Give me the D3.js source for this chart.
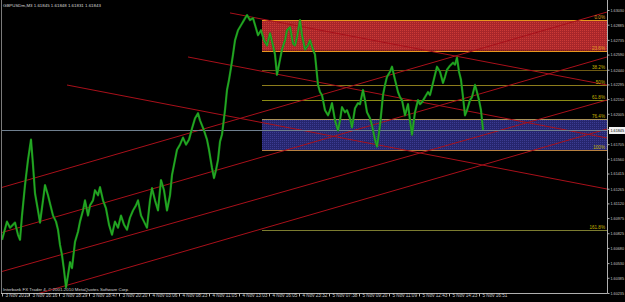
<!DOCTYPE html>
<html><head><meta charset="utf-8">
<script src="https://cdn.jsdelivr.net/npm/d3@7"></script>
<style>html,body{margin:0;padding:0;background:#000;overflow:hidden}</style>
</head><body><svg id="c" width="625" height="302"></svg>
<script>
const symbolTitle = "GBPUSDm,M3  1.61845 1.61848 1.61831 1.61843";
const copyright = "Interbank FX Trader 4, \u00a9 2001-2010 MetaQuotes Software Corp.";

const barIdx = [0,5,8,13,16,18,20,23,26,29,31,33,36,38,41,43,46,48,51,54,56,58,60,62,64,66,68,70,73,76,78,81,83,86,88,91,93,96,98,101,104,107,110,113,116,119,122,125,128,131,134,136,139,142,145,148,150,153,156,159,162,165,168,170,173,175,178,181,184,187,190,193,196,198,200,202,205,207,210,212,214,216,218,220,223,225,227,229,231,233,236,239,242,245,248,251,254,256,259,262,265,268,271,273,275,278,280,283,285,288,291,293,295,298,300,303,306,308,311,313,316,318,320,323,326,328,330,333,336,338,340,343,345,348,350,353,356,358,361,363,365,368,370,373,375,378,381,383,385,388,390,393,396,398,400,403,406,408,410,413,416,418,420,423,426,428,430,433,435,438,441,443,445,448,451,453,455,457,459,461,463,465,468,470,473,475,477,479,481];
const closes = [1.6076,1.6094,1.6088,1.6093,1.6081,1.6076,1.6100,1.6130,1.6155,1.6175,1.6150,1.6122,1.6105,1.6093,1.6115,1.6130,1.6120,1.6112,1.6100,1.6094,1.6086,1.6071,1.6061,1.6046,1.6029,1.6041,1.6054,1.6048,1.6074,1.6084,1.6094,1.6105,1.6115,1.6100,1.6110,1.6115,1.6125,1.6120,1.6128,1.6115,1.6107,1.6091,1.6081,1.6094,1.6088,1.6100,1.6091,1.6086,1.6098,1.6105,1.6110,1.6115,1.6100,1.6094,1.6088,1.6115,1.6127,1.6115,1.6105,1.6135,1.6125,1.6105,1.6120,1.6140,1.6155,1.6165,1.6170,1.6177,1.6170,1.6175,1.6186,1.6196,1.6201,1.6194,1.6189,1.6184,1.6175,1.6165,1.6147,1.6137,1.6145,1.6155,1.6173,1.6180,1.6204,1.6224,1.6234,1.6246,1.6259,1.6273,1.6283,1.6288,1.6293,1.6298,1.6293,1.6295,1.6285,1.6278,1.6283,1.6273,1.6268,1.6280,1.6268,1.6259,1.6239,1.6254,1.6264,1.6273,1.6283,1.6286,1.6270,1.6268,1.6276,1.6293,1.6278,1.6264,1.6268,1.6273,1.6264,1.6259,1.6229,1.6222,1.6219,1.6204,1.6199,1.6204,1.6211,1.6194,1.6184,1.6194,1.6207,1.6202,1.6204,1.6196,1.6187,1.6206,1.6211,1.6210,1.6224,1.6214,1.6202,1.6196,1.6189,1.6175,1.6168,1.6189,1.6219,1.6229,1.6237,1.6242,1.6247,1.6234,1.6222,1.6217,1.6214,1.6199,1.6210,1.6194,1.6180,1.6202,1.6214,1.6210,1.6212,1.6217,1.6222,1.6219,1.6227,1.6239,1.6247,1.6242,1.6231,1.6237,1.6244,1.6248,1.6251,1.6249,1.6256,1.6242,1.6234,1.6217,1.6199,1.6204,1.6214,1.6217,1.6229,1.6222,1.6214,1.6204,1.61845];

const timeTickBars = [0,27,57,87,117,147,177,207,237,267,297,327,357,387,417,447,477];
const timeLabels = ["3 Nov 2010","3 Nov 16:16","3 Nov 18:29","3 Nov 18:47","3 Nov 20:20","4 Nov 03:06","4 Nov 08:23","4 Nov 11:05","4 Nov 13:03","4 Nov 16:05","4 Nov 23:32","5 Nov 07:38","5 Nov 09:20","5 Nov 11:09","5 Nov 12:43","5 Nov 14:23","5 Nov 16:51"];

const priceTicks = [1.63030,1.62885,1.62735,1.62590,1.62440,1.62295,1.62150,1.62005,1.61855,1.61705,1.61560,1.61415,1.61265,1.61120,1.60975,1.60825,1.60680,1.60530,1.60385,1.60235];
const bidPrice = 1.61845;

const fibLevels = [0, 23.6, 38.2, 50, 61.8, 76.4, 100, 161.8];
const fibLabels = ["0.0%","23.6%","38.2%","50%","61.8%","76.4%","100%","161.8%"];
const fibColors = ["#e8961e","#e8961e","#6e5a14","#8c7c1c","#8c8c14","#a89058","#b88040","#7c7c30"];
const fibHighPrice = 1.62931, fibLowPrice = 1.61647, fibStartBar = 260;

// trend lines: start/end bar and price
const trendStartBars = [-2, -2, -2, -2, 65, 186, 228];
const trendStartPrices = [1.61272, 1.60827, 1.60442, 1.60120, 1.62289, 1.62566, 1.63001];
const trendEndBars = [605, 605, 605, 605, 605, 605, 605];
const trendEndPrices = [1.63010, 1.62566, 1.62141, 1.61855, 1.61262, 1.61766, 1.62289];

const svg = d3.select("#c");
const W = 625, H = 302, plotLeft = 2, plotRight = 607, plotTop = 0, plotBottom = 293;
const x = d3.scaleLinear().domain([0, 605]).range([plotLeft, plotRight]);
const y = d3.scaleLinear().domain([1.60235, 1.63030]).range([293, 10]);
const font = "'Liberation Sans', Arial, sans-serif";

svg.append("rect").attr("width", W).attr("height", H).attr("fill", "#000");

const defs = svg.append("defs");
const pr = defs.append("pattern").attr("id","redDots").attr("width",2).attr("height",2).attr("patternUnits","userSpaceOnUse");
pr.append("rect").attr("width",2).attr("height",2).attr("fill","#a8262a");
pr.append("rect").attr("width",1).attr("height",1).attr("fill","#cc3a36");
const pb = defs.append("pattern").attr("id","blueDots").attr("width",2).attr("height",2).attr("patternUnits","userSpaceOnUse");
pb.append("rect").attr("width",2).attr("height",2).attr("fill","#26266e");
pb.append("rect").attr("width",1).attr("height",1).attr("fill","#3c3c92");
defs.append("clipPath").attr("id","plot").append("rect").attr("x",plotLeft).attr("y",plotTop).attr("width",plotRight-plotLeft).attr("height",plotBottom-plotTop);

const plot = svg.append("g").attr("clip-path","url(#plot)");

const fibPrice = l => fibHighPrice - (fibHighPrice - fibLowPrice) * l / 100;

// fib zones
plot.append("rect").attr("x", x(fibStartBar)).attr("y", y(fibPrice(0)))
  .attr("width", plotRight - x(fibStartBar)).attr("height", y(fibPrice(23.6)) - y(fibPrice(0))).attr("fill","url(#redDots)");
plot.append("rect").attr("x", x(fibStartBar)).attr("y", y(fibPrice(76.4)))
  .attr("width", plotRight - x(fibStartBar)).attr("height", y(fibPrice(100)) - y(fibPrice(76.4))).attr("fill","url(#blueDots)");

// fib lines
fibLevels.forEach((l, i) => {
  const yy = Math.round(y(fibPrice(l))) + 0.5;
  plot.append("line").attr("x1", x(fibStartBar)).attr("x2", plotRight).attr("y1", yy).attr("y2", yy)
    .attr("stroke", fibColors[i]).attr("stroke-width", 1);
  svg.append("text").attr("x", plotRight - 2).attr("y", yy - 1.5).attr("text-anchor","end")
    .attr("font-family", font).attr("font-size", 4.6).attr("fill", i < 2 ? "#e0a020" : "#c8b400").text(fibLabels[i]);
});

// trend lines
trendStartBars.forEach((b, i) => {
  plot.append("line").attr("x1", x(b)).attr("y1", y(trendStartPrices[i]))
    .attr("x2", x(trendEndBars[i])).attr("y2", y(trendEndPrices[i]))
    .attr("stroke", "#a8101a").attr("stroke-width", 1);
});

// bid line
const by = Math.round(y(bidPrice)) + 0.5;
plot.append("line").attr("x1", plotLeft).attr("x2", plotRight).attr("y1", by).attr("y2", by).attr("stroke","#6f7f8f").attr("stroke-width",1);

// price
const n = Math.min(barIdx.length, closes.length);
const pts = d3.range(n).map(i => [barIdx[i], closes[i]]);
const lineGen = d3.line().x(d => x(d[0])).y(d => y(d[1]));
plot.append("path").datum(pts).attr("d", lineGen)
  .attr("fill","none").attr("stroke","#188c18").attr("stroke-width",2.2).attr("stroke-linejoin","round");
plot.append("path").datum(pts).attr("d", lineGen)
  .attr("fill","none").attr("stroke","#2cb82c").attr("stroke-width",0.7);

// frame
svg.append("line").attr("x1", 1.5).attr("x2", 1.5).attr("y1", 0).attr("y2", plotBottom).attr("stroke","#7a7a7a");
svg.append("line").attr("x1", plotRight + 0.5).attr("x2", plotRight + 0.5).attr("y1", 0).attr("y2", plotBottom + 0.5).attr("stroke","#b0b0b0");
svg.append("line").attr("x1", 1).attr("x2", plotRight + 0.5).attr("y1", plotBottom + 0.5).attr("y2", plotBottom + 0.5).attr("stroke","#b0b0b0");

// price axis
const ay = svg.append("g").attr("transform", `translate(${plotRight + 0.5},0)`)
  .call(d3.axisRight(y).tickValues(priceTicks).tickFormat(d3.format(".5f")).tickSize(2).tickPadding(1));
ay.select(".domain").remove();
ay.selectAll("line").attr("stroke","#b0b0b0");
ay.selectAll("text").attr("font-family", font).attr("font-size", 4.2).attr("fill","#c8c8c8")
  .attr("textLength", 13.5).attr("lengthAdjust", "spacingAndGlyphs");

// bid label
svg.append("rect").attr("x", plotRight + 2).attr("y", by - 3.5).attr("width", 16).attr("height", 7).attr("fill","#f0f0f0");
svg.append("text").attr("x", plotRight + 3.5).attr("y", by).attr("dy","0.34em").attr("font-family", font).attr("font-size", 4.2)
  .attr("textLength", 13.5).attr("lengthAdjust", "spacingAndGlyphs").attr("fill","#000").text(d3.format(".5f")(bidPrice));

// time axis
const ax = svg.append("g").attr("transform", `translate(0,${plotBottom + 0.5})`)
  .call(d3.axisBottom(x).tickValues(timeTickBars).tickFormat((d, i) => timeLabels[i]).tickSize(3).tickPadding(0));
ax.select(".domain").remove();
ax.selectAll("line").attr("stroke","#b0b0b0");
ax.selectAll("text").attr("text-anchor","start").attr("dx", 3).attr("dy", "0.2em")
  .attr("font-family", font).attr("font-size", 4.6).attr("fill","#c8c8c8");

// titles
svg.append("text").attr("x", 3).attr("y", 7).attr("font-family", font).attr("font-size", 4.4).attr("fill","#d8d8d8").text(symbolTitle);
svg.append("text").attr("x", 3).attr("y", 291).attr("font-family", font).attr("font-size", 4.4).attr("fill","#d8d8d8").text(copyright);
</script></body></html>
